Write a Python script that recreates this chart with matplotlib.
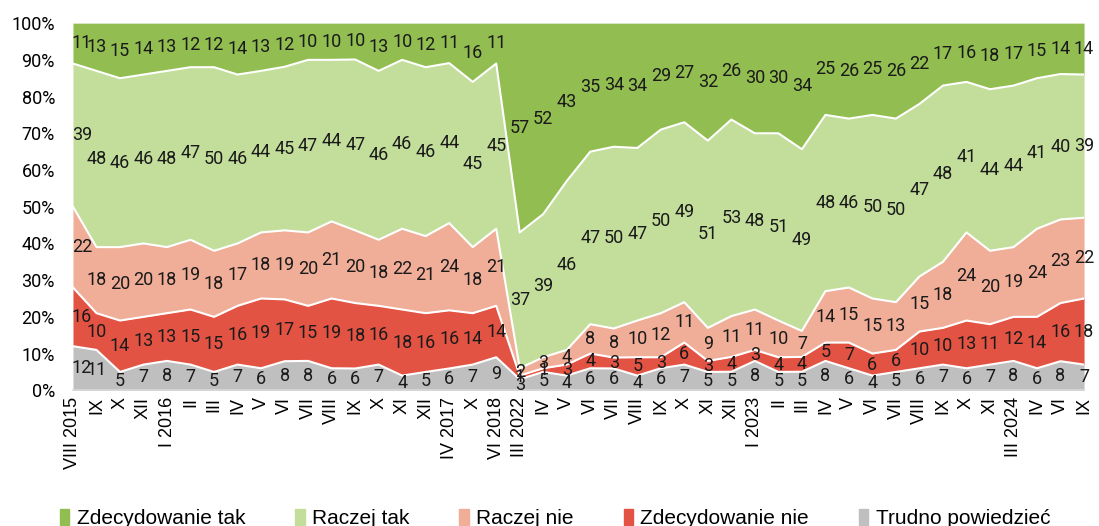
import numpy as np
import matplotlib
matplotlib.use("Agg")
from matplotlib import pyplot as plt
from matplotlib.patches import Patch

############## DANE ################################
miesiace = ["VIII 2015", "IX", "X", "XII", "I 2016", "II", "III", "IV", "V", "VI",
            "VII", "VIII", "IX", "X", "XI", "XII", "IV 2017", "X", "VI 2018",
            "III 2022", "IV", "V", "VI", "VII", "VIII", "IX", "X", "XI", "XII",
            "I 2023", "II", "III", "IV", "V", "VI", "VII", "VIII", "IX", "X", "XI",
            "III 2024", "IV", "VI", "IX"]

zdecydowanie_tak = [11, 13, 15, 14, 13, 12, 12, 14, 13, 12, 10, 10, 10, 13, 10, 12, 11, 16, 11,
                    57, 52, 43, 35, 34, 34, 29, 27, 32, 26, 30, 30, 34, 25, 26, 25, 26, 22,
                    17, 16, 18, 17, 15, 14, 14]
raczej_tak = [39, 48, 46, 46, 48, 47, 50, 46, 44, 45, 47, 44, 47, 46, 46, 46, 44, 45, 45,
              37, 39, 46, 47, 50, 47, 50, 49, 51, 53, 48, 51, 49, 48, 46, 50, 50, 47,
              48, 41, 44, 44, 41, 40, 39]
raczej_nie = [22, 18, 20, 20, 18, 19, 18, 17, 18, 19, 20, 21, 20, 18, 22, 21, 24, 18, 21,
              2, 3, 4, 8, 8, 10, 12, 11, 9, 11, 11, 10, 7, 14, 15, 15, 13, 15,
              18, 24, 20, 19, 24, 23, 22]
zdecydowanie_nie = [16, 10, 14, 13, 13, 15, 15, 16, 19, 17, 15, 19, 18, 16, 18, 16, 16, 14, 14,
                    1, 1, 3, 4, 3, 5, 3, 6, 3, 4, 3, 4, 4, 5, 7, 6, 6, 10,
                    10, 13, 11, 12, 14, 16, 18]
trudno = [12, 11, 5, 7, 8, 7, 5, 7, 6, 8, 8, 6, 6, 7, 4, 5, 6, 7, 9,
          3, 5, 4, 6, 6, 4, 6, 7, 5, 5, 8, 5, 5, 8, 6, 4, 5, 6,
          7, 6, 7, 8, 6, 8, 7]

# od dolu do gory
serie = [
    ("Trudno powiedzieć", trudno, "#bfbfbf"),
    ("Zdecydowanie nie", zdecydowanie_nie, "#e35343"),
    ("Raczej nie", raczej_nie, "#f0ae98"),
    ("Raczej tak", raczej_tak, "#c3de9b"),
    ("Zdecydowanie tak", zdecydowanie_tak, "#92bd50"),
]

x = np.arange(len(miesiace))
suma = np.zeros(len(x))
for nazwa, v, c in serie:
    suma = suma + np.array(v, dtype=float)

f1 = plt.figure(figsize=(10.99, 5.26), dpi=100)
ax1 = f1.add_axes([0.0664, 0.258, 0.92, 0.698])

dol = np.zeros(len(x))
for i, (nazwa, v, c) in enumerate(serie):
    pct = np.array(v, dtype=float) / suma * 100
    gora = dol + pct
    ax1.fill_between(x, dol, gora, color=c, linewidth=0, zorder=1)
    if i < len(serie) - 1:
        ax1.plot(x, gora, color="white", linewidth=1.5, zorder=2)
    srodek = (dol + gora) / 2
    for j in range(len(x)):
        ha = "left" if j == 0 else "center"
        xx = x[j] - 0.05 if j == 0 else x[j]
        ax1.text(xx, srodek[j], str(v[j]), ha=ha, va="center",
                 fontsize=13, family="Roboto", color="#1a1a1a", zorder=3)
    dol = gora

ax1.set_xlim(0, len(x) - 1)
ax1.set_ylim(0, 100)
ax1.set_xticks(x)
ax1.set_xticklabels(miesiace, rotation=90, fontsize=13, family="Liberation Sans")
ax1.set_yticks(np.arange(0, 101, 10))
ax1.set_yticklabels(["%d%%" % t for t in range(0, 101, 10)], fontsize=13, family="Roboto")
ax1.tick_params(axis="y", length=0, pad=13)
ax1.tick_params(axis="x", length=0, pad=5)
for s in ["top", "right", "left"]:
    ax1.spines[s].set_visible(False)
ax1.spines["bottom"].set_color("#d9d9d9")
ax1.spines["bottom"].set_linewidth(1.2)

# legenda
uchwyty = [Patch(color=c) for nazwa, v, c in serie[::-1]]
etykiety = [nazwa for nazwa, v, c in serie[::-1]]
f1.legend(uchwyty, etykiety, loc="center", bbox_to_anchor=(0.505, 0.014), ncol=5,
          frameon=False, handlelength=0.45, handleheight=0.75, handletextpad=0.35,
          columnspacing=2.4,
          prop={"family": "Liberation Sans", "size": 15})

f1.savefig("out.png", dpi=100)
